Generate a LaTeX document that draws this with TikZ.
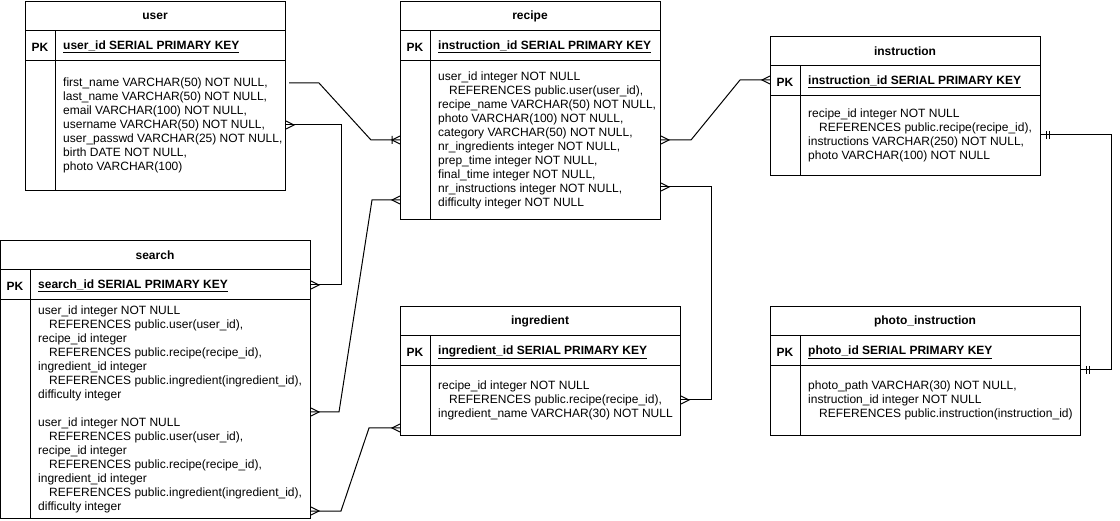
\documentclass[tikz,border=0pt]{standalone}
\usepackage{fontspec}
\setmainfont{Liberation Sans}
\tikzset{
  tbox/.style={draw, line width=1pt, inner sep=0pt, fill=white},
  ttl/.style={inner sep=0pt, font=\fontsize{12}{14}\selectfont\bfseries},
  bodytext/.style={inner sep=0pt, align=left, font=\fontsize{12}{14}\selectfont},
  conn/.style={line width=1pt},
  crow/.pic={\draw[line width=1pt] (0,-4) -- (8,0) -- (0,4);},
  onemany/.pic={\draw[line width=1pt] (0,-4) -- (8,0) -- (0,4) (8,-4) -- (8,4);},
  oneone/.pic={\draw[line width=1pt] (5,-4) -- (5,4) (8,-4) -- (8,4);}
}
\newcommand\ind{\hspace*{11pt}}
% #1 name, #2 x, #3 y, #4 width, #5 height, #6 title, #7 key, #8 body
\newcommand\ertab[8]{%
  \node[tbox, minimum width=#4pt, minimum height=#5pt, anchor=north west] (#1) at (#2,#3) {};
  \draw[line width=1pt] (#2,#3+30) -- ++(#4,0) (#2,#3+60) -- ++(#4,0) (#2+30,#3+30) -- (#2+30,#3+#5);
  \node[ttl] (#1-title) at (#2+#4/2,#3+15) {#6};
  \node[ttl] (#1-pk) at (#2+15,#3+46) {PK};
  \node[ttl, anchor=west] (#1-key) at (#2+38,#3+46) {\underline{#7}};
  \node[bodytext, anchor=west] (#1-body) at (#2+38,#3+30+#5/2) {#8};
}
\begin{document}
\begin{tikzpicture}[x=1pt, y=-1pt]
\useasboundingbox (0,0) rectangle (1120,521);

\ertab{user}{25}{1}{260}{189}{user}{user\_id SERIAL PRIMARY KEY}{%
first\_name VARCHAR(50) NOT NULL,\\
last\_name VARCHAR(50) NOT NULL,\\
email VARCHAR(100) NOT NULL,\\
username VARCHAR(50) NOT NULL,\\
user\_passwd VARCHAR(25) NOT NULL,\\
birth DATE NOT NULL,\\
photo VARCHAR(100)}

\ertab{search}{0}{240}{310}{278}{search}{search\_id SERIAL PRIMARY KEY}{%
user\_id integer NOT NULL\\
\ind REFERENCES public.user(user\_id),\\
recipe\_id integer\\
\ind REFERENCES public.recipe(recipe\_id),\\
ingredient\_id integer\\
\ind REFERENCES public.ingredient(ingredient\_id),\\
difficulty integer\\[14pt]
user\_id integer NOT NULL\\
\ind REFERENCES public.user(user\_id),\\
recipe\_id integer\\
\ind REFERENCES public.recipe(recipe\_id),\\
ingredient\_id integer\\
\ind REFERENCES public.ingredient(ingredient\_id),\\
difficulty integer}

\ertab{recipe}{400}{1}{260}{218}{recipe}{instruction\_id SERIAL PRIMARY KEY}{%
user\_id integer NOT NULL\\
\ind REFERENCES public.user(user\_id),\\
recipe\_name VARCHAR(50) NOT NULL,\\
photo VARCHAR(100) NOT NULL,\\
category VARCHAR(50) NOT NULL,\\
nr\_ingredients integer NOT NULL,\\
prep\_time integer NOT NULL,\\
final\_time integer NOT NULL,\\
nr\_instructions integer NOT NULL,\\
difficulty integer NOT NULL}

\ertab{instruction}{770}{36}{270}{139}{instruction}{instruction\_id SERIAL PRIMARY KEY}{%
recipe\_id integer NOT NULL\\
\ind REFERENCES public.recipe(recipe\_id),\\
instructions VARCHAR(250) NOT NULL,\\
photo VARCHAR(100) NOT NULL}

\ertab{ingredient}{400}{306}{280}{129}{ingredient}{ingredient\_id SERIAL PRIMARY KEY}{%
recipe\_id integer NOT NULL\\
\ind REFERENCES public.recipe(recipe\_id),\\
ingredient\_name VARCHAR(30) NOT NULL}

\ertab{photo}{770}{306}{310}{129}{photo\_instruction}{photo\_id SERIAL PRIMARY KEY}{%
photo\_path VARCHAR(30) NOT NULL,\\
instruction\_id integer NOT NULL\\
\ind REFERENCES public.instruction(instruction\_id)}

% connector end points
\coordinate (c1a) at ([shift={(3,82)}]user.north east);
\coordinate (c1b) at ([shift={(0,139)}]recipe.north west);
\coordinate (c2a) at ([shift={(0,124)}]user.north east);
\coordinate (c2b) at ([shift={(0,45)}]search.north east);
\coordinate (c3a) at ([shift={(0,172)}]search.north east);
\coordinate (c3b) at ([shift={(0,199)}]recipe.north west);
\coordinate (c4a) at ([shift={(0,271)}]search.north east);
\coordinate (c4b) at ([shift={(0,122)}]ingredient.north west);
\coordinate (c5a) at ([shift={(0,139)}]recipe.north east);
\coordinate (c5b) at ([shift={(0,44)}]instruction.north west);
\coordinate (c6a) at ([shift={(0,186)}]recipe.north east);
\coordinate (c6b) at ([shift={(0,94)}]ingredient.north east);
\coordinate (c7a) at ([shift={(0,99)}]instruction.north east);
\coordinate (c7b) at ([shift={(0,64)}]photo.north east);

\draw[conn] (c1a) -- ++(30,0) -- ([xshift=-29pt]c1b) -- (c1b);
\draw[conn] (c2a) -- ++(55,0) |- (c2b);
\draw[conn] (c3a) -- ++(28,0) -- ([xshift=-28pt]c3b) -- (c3b);
\draw[conn] (c4a) -- ++(30,0) -- ([xshift=-31pt]c4b) -- (c4b);
\draw[conn] (c5a) -- ++(30,0) -- ([xshift=-30pt]c5b) -- (c5b);
\draw[conn] (c6a) -- ++(50,0) |- (c6b);
\draw[conn] (c7a) -- ++(70,0) |- (c7b);

\pic[rotate=180] at (c1b) {onemany};
\pic at (c2a) {crow};
\pic at (c2b) {crow};
\pic at (c3a) {crow};
\pic[rotate=180] at (c3b) {crow};
\pic at (c4a) {crow};
\pic[rotate=180] at (c4b) {crow};
\pic at (c5a) {crow};
\pic[rotate=180] at (c5b) {crow};
\pic at (c6a) {crow};
\pic at (c6b) {crow};
\pic at (c7a) {oneone};
\pic at (c7b) {oneone};
\end{tikzpicture}
\end{document}
